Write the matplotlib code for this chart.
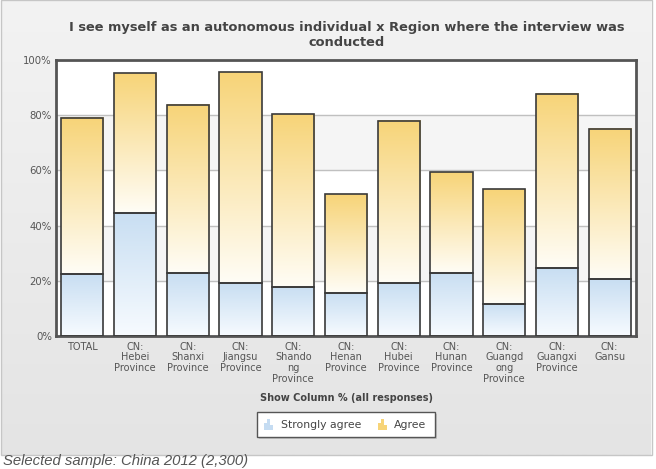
import numpy as np
import matplotlib
matplotlib.use("Agg")
import matplotlib.pyplot as plt
from matplotlib.patches import Rectangle
from matplotlib.colors import LinearSegmentedColormap

# data (percent of all responses)
categories = ["TOTAL", "CN:\nHebei\nProvince", "CN:\nShanxi\nProvince", "CN:\nJiangsu\nProvince",
              "CN:\nShando\nng\nProvince", "CN:\nHenan\nProvince", "CN:\nHubei\nProvince",
              "CN:\nHunan\nProvince", "CN:\nGuangd\nong\nProvince", "CN:\nGuangxi\nProvince",
              "CN:\nGansu"]
strongly_agree = [22.3, 44.6, 22.8, 19.2, 17.9, 15.7, 19.2, 23.0, 11.7, 24.5, 20.6]
agree_total = [79.0, 95.2, 83.7, 95.5, 80.5, 51.5, 77.9, 59.4, 53.3, 87.7, 75.0]
agree = [t - s for t, s in zip(agree_total, strongly_agree)]

yticks = [0, 20, 40, 60, 80, 100]
ytick_labels = ["0%", "20%", "40%", "60%", "80%", "100%"]

W, H = 656, 469
fig = plt.figure(figsize=(W / 100, H / 100), dpi=100)
fig.patch.set_facecolor("white")

# panel background with soft vertical gradient
bg = fig.add_axes([0, 0, 1, 1], zorder=0)
bg.set_xlim(0, W)
bg.set_ylim(H, 0)
bg.axis("off")
grad = np.linspace(0, 1, 256).reshape(-1, 1)
bgcmap = LinearSegmentedColormap.from_list("bg", ["#f3f3f3", "#e4e4e4"])
bg.imshow(grad, cmap=bgcmap, extent=[1, 651, 455, 1], aspect="auto")
bg.add_patch(Rectangle((0.5, 0.5), 651, 455, fill=False, ec="#c6c6c6", lw=1))

ax = fig.add_axes([56 / W, 1 - 336 / H, 580 / W, 276 / H], zorder=1)
ax.set_facecolor("white")
n = len(categories)
x = np.arange(n)

# alternating bands + grid
for i in range(len(yticks) - 1):
    if i % 2 == 1:
        ax.axhspan(yticks[i], yticks[i + 1], color="#f5f5f5", zorder=0)
for yv in yticks[1:-1]:
    ax.axhline(yv, color="#c0c0c0", lw=1, zorder=0.5)

cmap_sa = LinearSegmentedColormap.from_list("sa", ["#f7fbff", "#c8def2"])
cmap_ag = LinearSegmentedColormap.from_list("ag", ["#fffdf6", "#f7d478"])
bw = 0.8
for xi, s, a in zip(x, strongly_agree, agree):
    ax.imshow(grad[::-1], cmap=cmap_sa, extent=[xi - bw / 2, xi + bw / 2, 0, s],
              aspect="auto", zorder=2)
    ax.imshow(grad[::-1], cmap=cmap_ag, extent=[xi - bw / 2, xi + bw / 2, s, s + a],
              aspect="auto", zorder=2)
ax.bar(x, strongly_agree, bw, facecolor="none", edgecolor="#3a3a3a", lw=1.2, zorder=3)
ax.bar(x, agree, bw, bottom=strongly_agree, facecolor="none", edgecolor="#3a3a3a", lw=1.2, zorder=3)
ax.set_xlim(-0.5, n - 0.5)
ax.set_ylim(0, 100)

for sp in ax.spines.values():
    sp.set_color("#555555")
    sp.set_linewidth(2)
ax.set_yticks(yticks)
ax.set_yticklabels(ytick_labels, fontsize=7.3, color="#555555")
ax.set_xticks(x)
ax.set_xticklabels(categories, fontsize=7, color="#555555", linespacing=1.1)
ax.tick_params(length=0, pad=4)
ax.tick_params(axis="y", pad=3)

fig.text(347 / W, 1 - 35 / H, "I see myself as an autonomous individual x Region where the interview was\nconducted",
         ha="center", va="center", fontsize=9.4, fontweight="bold", color="#444444", linespacing=1.25)
fig.text(346 / W, 1 - 398 / H, "Show Column % (all responses)", ha="center", va="center",
         fontsize=7, fontweight="bold", color="#444444")
fig.text(3 / W, 1 - 461 / H, "Selected sample: China 2012 (2,300)", ha="left", va="center",
         fontsize=10.7, style="italic", color="#555555", family="Liberation Sans")

# legend box
bg.add_patch(Rectangle((259, 414), 178, 25, fc="#b0b0b0", ec="none", alpha=0.6, zorder=1))
bg.add_patch(Rectangle((257, 412), 178, 25, fc="white", ec="#555555", lw=1, zorder=2))

def legend_icon(x0, col):
    for dx, h in [(0, 7), (3, 11), (6, 5)]:
        bg.add_patch(Rectangle((x0 + dx, 430 - h), 2.5, h, fc=col, ec="none", zorder=3))

legend_icon(264, "#c5dcf2")
bg.text(281, 425, "Strongly agree", fontsize=7.8, color="#444444", va="center", ha="left", zorder=3)
legend_icon(378, "#f7d478")
bg.text(394, 425, "Agree", fontsize=7.8, color="#444444", va="center", ha="left", zorder=3)

fig.savefig("out.png", dpi=100)
